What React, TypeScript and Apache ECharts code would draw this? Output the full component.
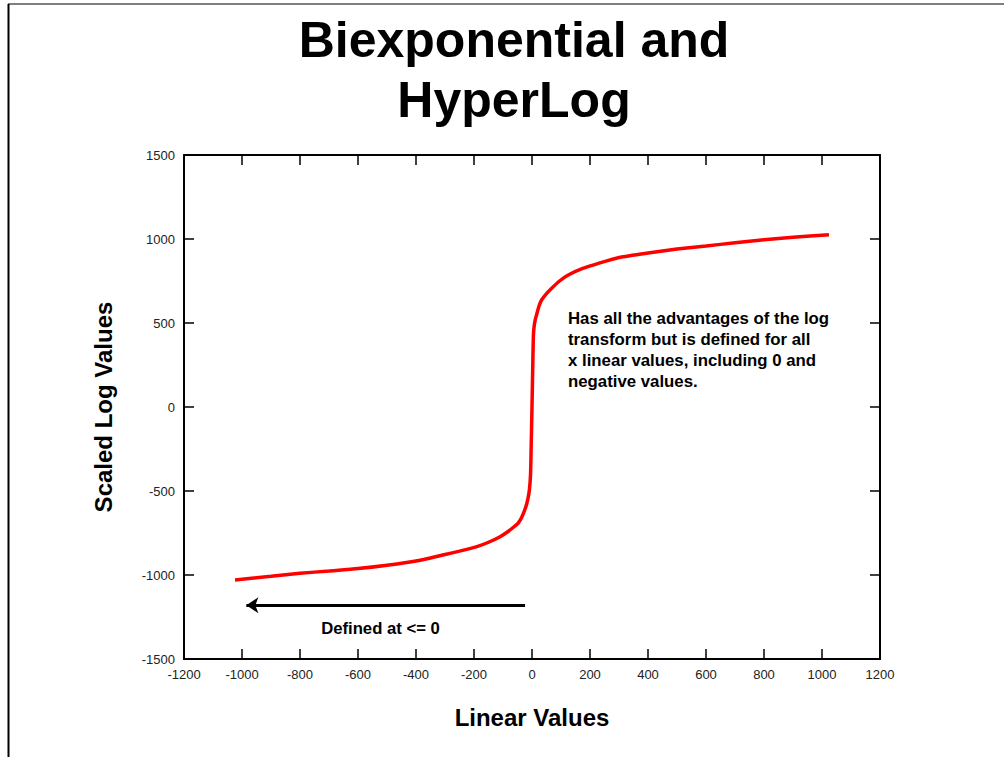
import React, { useEffect, useRef } from "react";
import * as echarts from "echarts";

const linearValues = [-1024, -900, -800, -700, -600, -500, -400, -300, -250, -190, -150, -110, -80, -60, -47, -35, -21, -14, -9, -5, -3, 0, 3, 5, 8, 12, 16, 24, 33, 50, 68, 95, 125, 175, 229, 300, 400, 500, 600, 700, 800, 900, 1024];
const scaledLogValues = [-1030, -1008, -990, -976, -962, -942, -917, -878, -858, -831, -805, -772, -738, -710, -690, -655, -593, -545, -494, -400, -250, 0, 280, 430, 490, 525, 550, 600, 637, 675, 707, 750, 786, 825, 855, 890, 917, 940, 958, 978, 995, 1010, 1026];
const arrowFrom = [-24, -1180];
const arrowTo = [-985, -1180];

const titleText = "Biexponential and\nHyperLog";
const noteText = "Has all the advantages of the log\ntransform but is defined for all\nx linear values, including 0 and\nnegative values.";
const arrowText = "Defined at <= 0";

export default function App() {
  const ref = useRef<HTMLDivElement>(null);
  useEffect(() => {
    if (!ref.current) return;
    const chart = echarts.init(ref.current, null, { renderer: "svg" });
    const data = linearValues.map((x, i) => [x, scaledLogValues[i]]);
    const labelStyle = { fontFamily: "Liberation Sans", fontSize: 13, color: "#222", formatter: (v: number) => String(v) };
    const axisLine = { show: true, onZero: false, lineStyle: { color: "#000", width: 2 } };
    const axisTick = { show: true, inside: true, length: 10, lineStyle: { color: "#000", width: 1.5 } };
    chart.setOption({
      animation: false,
      backgroundColor: "#fff",
      grid: { left: 184, right: 124, top: 155, bottom: 98 },
      xAxis: [
        {
          type: "value", min: -1200, max: 1200, interval: 200, position: "bottom",
          axisLine, axisTick, splitLine: { show: false },
          axisLabel: { ...labelStyle, margin: 9 },
          name: "Linear Values", nameLocation: "middle", nameGap: 46,
          nameTextStyle: { fontFamily: "Liberation Sans", fontWeight: "bold", fontSize: 24, color: "#000" },
        },
        {
          type: "value", min: -1200, max: 1200, interval: 200, position: "top",
          axisLine, axisTick, splitLine: { show: false }, axisLabel: { show: false },
        },
      ],
      yAxis: [
        {
          type: "value", min: -1500, max: 1500, interval: 500, position: "left",
          axisLine, axisTick, splitLine: { show: false },
          axisLabel: { ...labelStyle, margin: 9 },
          name: "Scaled Log Values", nameLocation: "middle", nameGap: 69,
          nameTextStyle: { fontFamily: "Liberation Sans", fontWeight: "bold", fontSize: 24, color: "#000" },
        },
        {
          type: "value", min: -1500, max: 1500, interval: 500, position: "right",
          axisLine, axisTick, splitLine: { show: false }, axisLabel: { show: false },
        },
      ],
      series: [
        {
          type: "line",
          data,
          showSymbol: false,
          smooth: 0.2,
          lineStyle: { color: "#ff0000", width: 3.5 },
          markLine: {
            silent: true,
            symbol: ["none", "arrow"],
            symbolSize: 12,
            label: { show: false },
            lineStyle: { color: "#000", width: 3, type: "solid" },
            data: [[{ coord: arrowFrom }, { coord: arrowTo }]],
          },
        },
      ],
      graphic: [
        { type: "line", shape: { x1: 8, y1: 4, x2: 1004, y2: 4 }, style: { stroke: "#555", lineWidth: 1.5 } },
        { type: "line", shape: { x1: 8.5, y1: 4, x2: 8.5, y2: 757 }, style: { stroke: "#000", lineWidth: 2 } },
        {
          type: "text", x: 514, y: 10,
          style: { text: titleText, textAlign: "center", textVerticalAlign: "top", fontFamily: "Liberation Sans", fontWeight: "bold", fontSize: 50, lineHeight: 60, fill: "#000" },
        },
        {
          type: "text", x: 568, y: 308,
          style: { text: noteText, textAlign: "left", textVerticalAlign: "top", fontFamily: "Liberation Sans", fontWeight: "bold", fontSize: 16.8, lineHeight: 21, fill: "#000" },
        },
        {
          type: "text", x: 380.5, y: 628.5,
          style: { text: arrowText, textAlign: "center", textVerticalAlign: "middle", fontFamily: "Liberation Sans", fontWeight: "bold", fontSize: 16.7, fill: "#000" },
        },
      ],
    });
    return () => chart.dispose();
  }, []);
  return <div ref={ref} style={{ position: "absolute", left: 0, top: 0, width: 1004, height: 757 }} />;
}
